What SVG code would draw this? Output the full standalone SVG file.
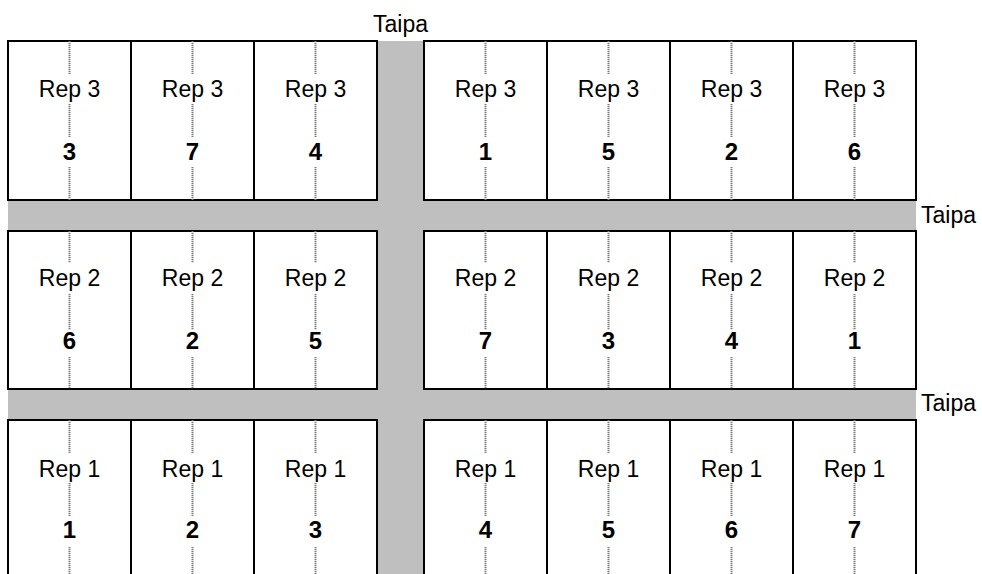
<svg xmlns="http://www.w3.org/2000/svg" width="982" height="574" viewBox="0 0 982 574">
<style>
.road{fill:#bfbfbf;stroke:none}
.cell{fill:#fff;stroke:#000;stroke-width:2}
.mid{stroke:#7a7a7a;stroke-width:2;stroke-dasharray:1.2 0.8;fill:none}
.rep{font-family:"Liberation Sans",Arial,sans-serif;font-size:23px;fill:#000;text-anchor:middle}
.num{font-family:"Liberation Sans",Arial,sans-serif;font-size:24px;font-weight:bold;fill:#000;text-anchor:middle}
.lbl{font-family:"Liberation Sans",Arial,sans-serif;font-size:23px;fill:#000}
</style>
<defs>
<g id="c1"><rect class="cell" x="-61.5" y="0" width="123" height="159"/><path class="mid" d="M0,0V33M0,63V96M0,126V159"/></g>
<g id="c2"><rect class="cell" x="-61.5" y="0" width="123" height="158"/><path class="mid" d="M0,0V32M0,63V99M0,126V158"/></g>
<g id="c3"><rect class="cell" x="-61.5" y="0" width="123" height="160"/><path class="mid" d="M0,0V33M0,63V96M0,127V160"/></g>
</defs>
<g id="roads">
<rect class="road" x="8" y="200" width="908" height="31"/>
<rect class="road" x="8" y="389" width="908" height="31"/>
<rect class="road" x="377" y="41" width="47" height="533"/>
</g>
<g id="row-rep3" transform="translate(0,41)">
<g id="r3-p1" transform="translate(69.5,0)"><use href="#c1"/><text class="rep" y="56">Rep 3</text><text class="num" y="119">3</text></g>
<g id="r3-p2" transform="translate(192.5,0)"><use href="#c1"/><text class="rep" y="56">Rep 3</text><text class="num" y="119">7</text></g>
<g id="r3-p3" transform="translate(315.5,0)"><use href="#c1"/><text class="rep" y="56">Rep 3</text><text class="num" y="119">4</text></g>
<g id="r3-p4" transform="translate(485.5,0)"><use href="#c1"/><text class="rep" y="56">Rep 3</text><text class="num" y="119">1</text></g>
<g id="r3-p5" transform="translate(608.5,0)"><use href="#c1"/><text class="rep" y="56">Rep 3</text><text class="num" y="119">5</text></g>
<g id="r3-p6" transform="translate(731.5,0)"><use href="#c1"/><text class="rep" y="56">Rep 3</text><text class="num" y="119">2</text></g>
<g id="r3-p7" transform="translate(854.5,0)"><use href="#c1"/><text class="rep" y="56">Rep 3</text><text class="num" y="119">6</text></g>
</g>
<g id="row-rep2" transform="translate(0,231)">
<g id="r2-p1" transform="translate(69.5,0)"><use href="#c2"/><text class="rep" y="55">Rep 2</text><text class="num" y="118">6</text></g>
<g id="r2-p2" transform="translate(192.5,0)"><use href="#c2"/><text class="rep" y="55">Rep 2</text><text class="num" y="118">2</text></g>
<g id="r2-p3" transform="translate(315.5,0)"><use href="#c2"/><text class="rep" y="55">Rep 2</text><text class="num" y="118">5</text></g>
<g id="r2-p4" transform="translate(485.5,0)"><use href="#c2"/><text class="rep" y="55">Rep 2</text><text class="num" y="118">7</text></g>
<g id="r2-p5" transform="translate(608.5,0)"><use href="#c2"/><text class="rep" y="55">Rep 2</text><text class="num" y="118">3</text></g>
<g id="r2-p6" transform="translate(731.5,0)"><use href="#c2"/><text class="rep" y="55">Rep 2</text><text class="num" y="118">4</text></g>
<g id="r2-p7" transform="translate(854.5,0)"><use href="#c2"/><text class="rep" y="55">Rep 2</text><text class="num" y="118">1</text></g>
</g>
<g id="row-rep1" transform="translate(0,420)">
<g id="r1-p1" transform="translate(69.5,0)"><use href="#c3"/><text class="rep" y="57">Rep 1</text><text class="num" y="118">1</text></g>
<g id="r1-p2" transform="translate(192.5,0)"><use href="#c3"/><text class="rep" y="57">Rep 1</text><text class="num" y="118">2</text></g>
<g id="r1-p3" transform="translate(315.5,0)"><use href="#c3"/><text class="rep" y="57">Rep 1</text><text class="num" y="118">3</text></g>
<g id="r1-p4" transform="translate(485.5,0)"><use href="#c3"/><text class="rep" y="57">Rep 1</text><text class="num" y="118">4</text></g>
<g id="r1-p5" transform="translate(608.5,0)"><use href="#c3"/><text class="rep" y="57">Rep 1</text><text class="num" y="118">5</text></g>
<g id="r1-p6" transform="translate(731.5,0)"><use href="#c3"/><text class="rep" y="57">Rep 1</text><text class="num" y="118">6</text></g>
<g id="r1-p7" transform="translate(854.5,0)"><use href="#c3"/><text class="rep" y="57">Rep 1</text><text class="num" y="118">7</text></g>
</g>
<g id="labels">
<text class="lbl" x="400.5" y="32" text-anchor="middle">Taipa</text>
<text class="lbl" x="921" y="223">Taipa</text>
<text class="lbl" x="921" y="411">Taipa</text>
</g>
</svg>
